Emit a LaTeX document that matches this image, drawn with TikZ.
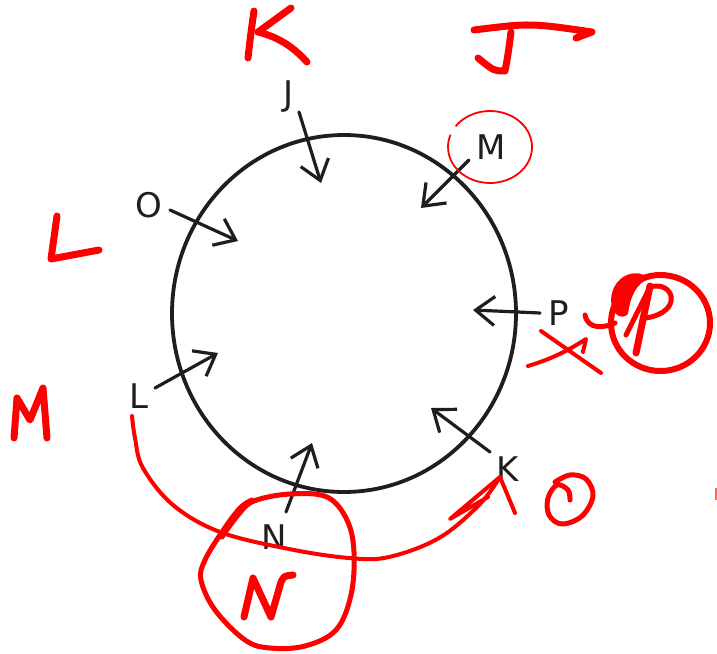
\documentclass[tikz,border=0pt]{standalone}
\usepackage{fontspec}
\setmainfont{DejaVu Sans}
\usetikzlibrary{arrows.meta,shapes.geometric}
\definecolor{ink}{HTML}{1E1E1E}
\definecolor{pen}{HTML}{FF0000}
\tikzset{
  lbl/.style={text=ink, font=\fontsize{34}{34}\selectfont, inner sep=0pt, anchor=base},
  arr/.style={draw=ink, line width=3.2pt, line cap=round, -{Straight Barb[length=19pt,width=29pt]}},
  pen/.style={draw=pen, line width=7pt, line cap=round, line join=round},
  penmid/.style={draw=pen, line width=5pt, line cap=round, line join=round},
  penthin/.style={draw=pen, line width=4pt, line cap=round, line join=round},
}
\begin{document}
\begin{tikzpicture}[x=1pt,y=-1pt]
\useasboundingbox (0,0) rectangle (717,653);
\fill[white] (0,0) rectangle (717,653);

% the circle
\draw[draw=ink, line width=3.8pt] (344,313.5) ellipse [x radius=172, y radius=178.5];

% labels
\node[lbl] (J) at (289,105) {J};
\node[lbl] (M) at (491,159) {M};
\node[lbl] (O) at (149,217) {O};
\node[lbl] (P) at (559,325) {P};
\node[lbl] (L) at (139,408) {L};
\node[lbl] (K) at (508,481) {K};
\node[lbl] (N) at (274,549) {N};

% arrow ends
\coordinate (Js) at (299,112); \coordinate (Jt) at (321,183);
\coordinate (Ms) at (469,160); \coordinate (Mt) at (421,208);
\coordinate (Os) at (170,210); \coordinate (Ot) at (238,241);
\coordinate (Ps) at (540,313); \coordinate (Pt) at (473,310);
\coordinate (Ls) at (155,388); \coordinate (Lt) at (218,353);
\coordinate (Ks) at (490,452); \coordinate (Kt) at (431,408);
\coordinate (Ns) at (286,512); \coordinate (Nt) at (312,443);

\draw[arr] (Js) -- (Jt);
\draw[arr] (Ms) -- (Mt);
\draw[arr] (Os) -- (Ot);
\draw[arr] (Ps) -- (Pt);
\draw[arr] (Ls) -- (Lt);
\draw[arr] (Ks) -- (Kt);
\draw[arr] (Ns) -- (Nt);

% red handwriting: K
\draw[pen] (254,11) .. controls (251,32) .. (248,58);
\draw[pen] (291,8) -- (258,32) .. controls (282,38) and (296,50) .. (307,62);
% red J
\draw[pen] (474,30) .. controls (530,23) .. (592,32) -- (576,38);
\draw[pen] (511,32) .. controls (508,55) .. (505,71) .. controls (494,71) .. (478,58);
% red L
\draw[pen] (57,216) -- (51,259) -- (99,250);
% red M
\draw[pen] (14,438) -- (17,398) -- (30,420) -- (43,388) -- (47,438);
% red O
\draw[penmid] plot[smooth, tension=0.6] coordinates {(570,500) (568,490) (557,485) (548,498) (549,515) (562,524) (582,516) (593,496) (586,479) (570,475) (555,482)};
% small mark at right edge
\draw[draw=pen!60, line width=2pt] (716,488) -- (716,500);

% thin circle round M
\draw[draw=pen, line width=1.8pt] (490,147) ++(215:42 and 36) arc[start angle=215, end angle=560, x radius=42, y radius=36];

% circled P
\draw[draw=pen, line width=6pt] (660.5,323) ellipse [x radius=49.5, y radius=48];
\fill[fill=pen] (611,300) .. controls (612,276) and (636,266) .. (650,279) .. controls (636,282) and (630,298) .. (628,314) .. controls (622,320) and (612,316) .. (611,300) -- cycle;
\draw[pen] (636,353) -- (650,286);
\draw[penmid] (626,335) -- (650,287) .. controls (674,280) and (684,312) .. (646,318);
\draw[penmid] (585,315) .. controls (588,330) and (604,328) .. (615,323);
% cross
\draw[penthin] (541,331) -- (601,373);
\draw[penthin] (528,366) .. controls (555,358) and (572,348) .. (586,339) -- (583,352);

% curve from L to K
\coordinate (cs) at (132,416);
\coordinate (ce) at (500,477);
\draw[penthin] plot[smooth, tension=0.6] coordinates {(cs) (135,438) (143,468) (173,505) (220,532) (289,549) (349,558) (389,557) (439,538) (479,505) (ce)};
\draw[penthin] (ce) -- (450,519) -- (488,497);
\draw[penthin] (ce) -- (515,513);

% blob round N
\draw[penmid] plot[smooth, tension=0.6] coordinates {(222,537) (238,515) (254,501) (290,494) (327,497) (347,520) (354,552) (351,595) (336,630) (305,646) (270,648) (245,640) (215,610) (201,580) (205,560) (222,532) (240,508) (252,500)};
% red N
\draw[pen] (244,617) -- (253,578) -- (271,617) -- (281,582) .. controls (284,576) .. (293,575);
\end{tikzpicture}
\end{document}
